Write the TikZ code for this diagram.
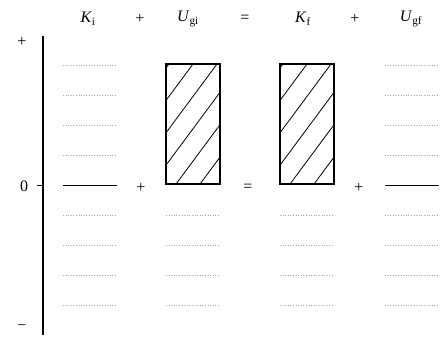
\documentclass[tikz,border=0pt]{standalone}
\usepackage{fontspec}
\setmainfont{Liberation Serif}
\begin{document}
\begin{tikzpicture}[x=1pt,y=-1pt,
  lbl/.style={inner sep=0pt,font=\fontsize{16}{18}\selectfont},
  bar/.style={draw,line width=2.2pt,minimum width=54pt,minimum height=120pt,inner sep=0pt,anchor=south west,
    path picture={\foreach \s in {-110,-86,...,60}{\draw[line width=0.8pt] ([xshift=\s pt]path picture bounding box.south west) -- ++(89pt,120pt);}}},
  grid/.style={gray!70,dotted,line width=0.6pt},
  zero/.style={line width=0.9pt}]
\useasboundingbox (0,0) rectangle (444,340);
% axis
\coordinate (atop) at (43,36);
\coordinate (abot) at (43,335);
\draw[line width=1.1pt] (atop) -- (abot);
\coordinate (t0) at (37,185);
\coordinate (t1) at (43,185);
\draw[line width=0.8pt] (t0) -- (t1);
\node[lbl] (plus) at (22,42) {+};
\node[lbl] (zerol) at (24,186) {0};
\node[lbl] (minus) at (22,328) {\textminus};
% headers
\node[lbl] (hKi) at (88,19) {\textit{K}\textsubscript{i}};
\node[lbl] (hp1) at (140,19) {+};
\node[lbl] (hUgi) at (188,19) {\textit{U}\textsubscript{gi}};
\node[lbl] (heq) at (245,19) {=};
\node[lbl] (hKf) at (303,19) {\textit{K}\textsubscript{f}};
\node[lbl] (hp2) at (355,19) {+};
\node[lbl] (hUgf) at (411,19) {\textit{U}\textsubscript{gf}};
% middle operators
\node[lbl] (mp1) at (141,188) {+};
\node[lbl] (meq) at (248,188) {=};
\node[lbl] (mp2) at (359,188) {+};
% bars
\node[bar] (bar2) at (165,185) {};
\node[bar] (bar3) at (279,185) {};
% grid lines
\foreach \y in {65,95,125,155,215,245,275,305}{
  \draw[grid] (63,\y) -- (117,\y);
  \draw[grid] (385,\y) -- (439,\y);
}
\foreach \y in {215,245,275,305}{
  \draw[grid] (166,\y) -- (220,\y);
  \draw[grid] (280,\y) -- (334,\y);
}
% zero lines
\coordinate (z1a) at (63,185);
\coordinate (z1b) at (117,185);
\coordinate (z4a) at (385,185);
\coordinate (z4b) at (439,185);
\draw[zero] (z1a) -- (z1b);
\draw[zero] (z4a) -- (z4b);
\end{tikzpicture}
\end{document}
